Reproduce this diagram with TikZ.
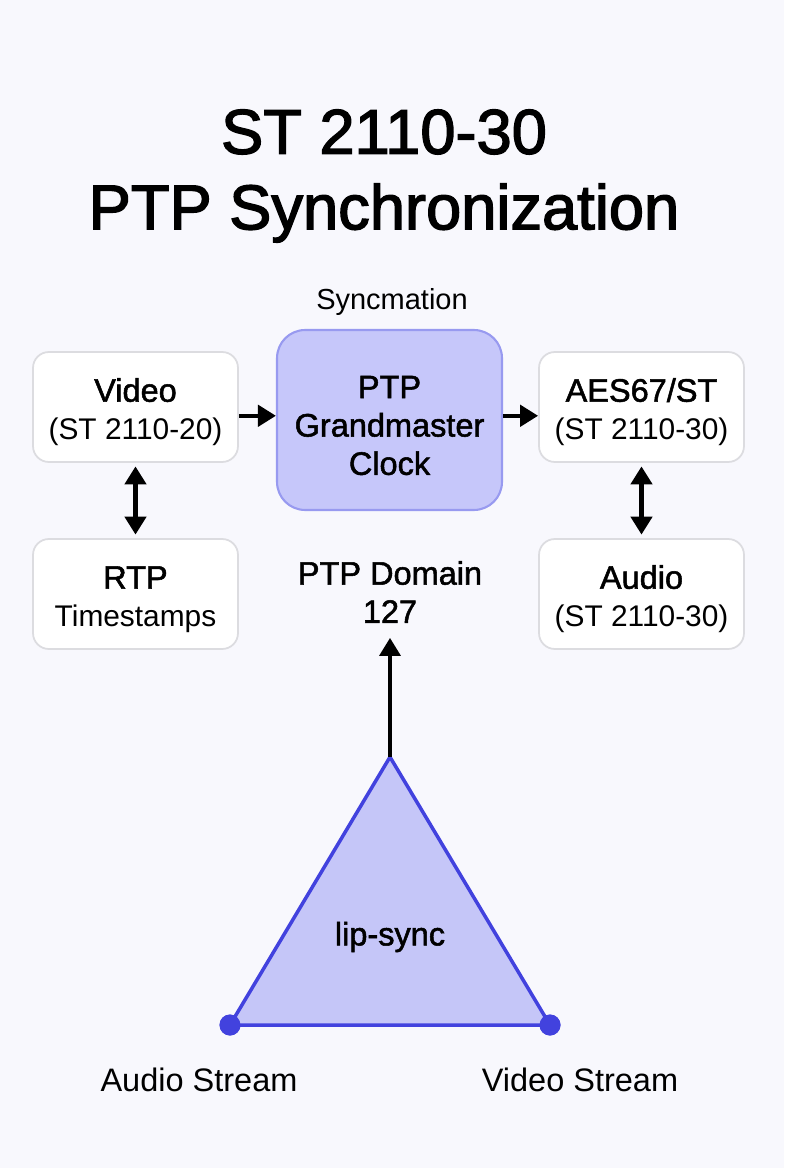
\documentclass[tikz,border=0pt]{standalone}
\usepackage{fontspec}
\setmainfont{Liberation Sans}
\newfontfamily\mediumfont{Liberation Sans}[FakeBold=1.6]
\newfontfamily\titlefont{Liberation Sans}[FakeBold=2.2]
\usetikzlibrary{arrows.meta, positioning}

\definecolor{clockfill}{RGB}{198,199,250}
\definecolor{clockline}{RGB}{152,154,240}
\definecolor{boxline}{RGB}{220,220,224}
\definecolor{lipfill}{RGB}{197,198,248}
\definecolor{lipline}{RGB}{66,66,222}
\definecolor{bgtint}{RGB}{248,248,253}

\newcommand{\headfont}{\fontsize{18.5}{21.8}\selectfont\mediumfont}

\begin{document}
\begin{tikzpicture}[
        x=0.02cm, y=-0.02cm,
        stream/.style={rectangle, rounded corners=9pt, draw=boxline, line width=1pt, fill=white, minimum width=4.1cm, minimum height=2.2cm, align=center, font=\fontsize{17}{21.5}\selectfont},
        clock/.style={rectangle, rounded corners=16pt, draw=clockline, line width=1.2pt, fill=clockfill, minimum width=4.5cm, minimum height=3.6cm, align=center, font=\headfont},
        plain/.style={align=center, font=\fontsize{16.5}{21.5}\selectfont},
        heading/.style={align=center, font=\headfont},
        arrow/.style={-{Triangle[length=3.6mm, width=4.2mm]}, line width=2.6pt},
        twoway/.style={{Triangle[length=3.6mm, width=4.2mm]}-{Triangle[length=3.6mm, width=4.2mm]}, line width=2.6pt, shorten <=2pt, shorten >=2pt},
        corner/.style={circle, fill=lipline, inner sep=0pt, minimum size=0.42cm}
    ]

    % Page
    \fill[bgtint] (0,0) rectangle (784,1168);
    \useasboundingbox (0,0) rectangle (784,1168);

    % Title
    \node[align=center, font=\fontsize{36}{43}\selectfont\titlefont] (title) at (384,176) {ST 2110-30\\PTP Synchronization};

    % Grandmaster clock
    \node[clock] (clock) at (389.5,420) {\rule{0pt}{19pt}PTP\\Grandmaster\\Clock};
    \node[plain] (vendor) at (392,302) {Syncmation};

    % Stream boxes
    \node[stream] (video) at (135.5,407) {\rule{0pt}{19pt}{\headfont Video}\\(ST 2110-20)};
    \node[stream] (rtp) at (135.5,594) {\rule{0pt}{19pt}{\headfont RTP}\\Timestamps};
    \node[stream] (aes) at (641.5,407) {\rule{0pt}{19pt}{\headfont AES67/ST}\\(ST 2110-30)};
    \node[stream] (audio) at (641.5,594) {\rule{0pt}{19pt}{\headfont Audio}\\(ST 2110-30)};

    % Domain
    \node[heading] (domain) at (390,592) {PTP Domain\\127};

    % Lip-sync triangle
    \coordinate (apex) at (390,757);
    \node[corner] (audio_pt) at (230,1025) {};
    \node[corner] (video_pt) at (550,1025) {};
    \filldraw[fill=lipfill, draw=lipline, line width=2pt, line join=round] (apex) -- (audio_pt.center) -- (video_pt.center) -- cycle;
    \node[corner] at (audio_pt) {};
    \node[corner] at (video_pt) {};
    \node[heading] (lipsync) at (390,937) {lip-sync};
    \node[heading, font=\fontsize{18.5}{21.8}\selectfont] (audio_lbl) at (199,1080) {Audio Stream};
    \node[heading, font=\fontsize{18.5}{21.8}\selectfont] (video_lbl) at (580,1080) {Video Stream};

    % Connections
    \draw[arrow] ([yshift=-5pt]video.east) -- ([yshift=-5pt]video.east -| clock.west);
    \draw[arrow] ([yshift=-5pt]aes.west -| clock.east) -- ([yshift=-5pt]aes.west);
    \draw[twoway] (video) -- (rtp);
    \draw[twoway] (aes) -- (audio);
    \draw[arrow, line width=2pt, shorten >=5pt] (apex) -- (domain);

    \end{tikzpicture}
\end{document}
